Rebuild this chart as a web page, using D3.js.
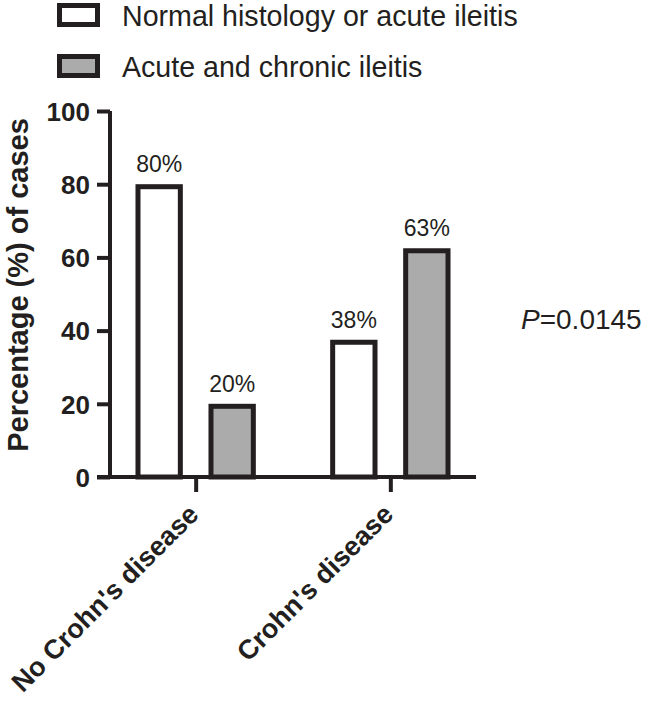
<!DOCTYPE html>
<html>
<head>
<meta charset="utf-8">
<script src="https://cdn.jsdelivr.net/npm/d3@7"></script>
<style>
  body { margin: 0; background: #fff; }
  svg { font-family: Arial, "Liberation Sans", Helvetica, sans-serif; }
</style>
</head>
<body>
<svg width="645" height="707"></svg>
<script>
const svg = d3.select('svg');

const groups = ["No Crohn's disease", "Crohn's disease"];
const series = ['Normal histology or acute ileitis', 'Acute and chronic ileitis'];
const normalValues = [80, 37.5];
const chronicValues = [20, 62.5];
const valueLabels = [['80%', '38%'], ['20%', '63%']];
const yTicks = [0, 20, 40, 60, 80, 100];
const pText = '=0.0145';

const ink = '#231f20';
const fills = ['#ffffff', '#ababab'];

const data = [];
groups.forEach((g, i) => {
  data.push({ group: g, series: series[0], value: normalValues[i], label: valueLabels[0][i] });
  data.push({ group: g, series: series[1], value: chronicValues[i], label: valueLabels[1][i] });
});

const yScale = d3.scaleLinear().domain([0, 100]).range([477, 111]);
const xScale = d3.scalePoint().domain(groups).range([110, 476]).padding(0.44);
const x1 = d3.scaleBand().domain(series).range([-73, 73])
  .paddingInner(0.42).paddingOuter(0.21);
const color = d3.scaleOrdinal().domain(series).range(fills);

// bars
const sw = 5;
svg.append('g').selectAll('rect').data(data)
  .enter().append('rect')
    .attr('x', d => xScale(d.group) + x1(d.series))
    .attr('y', d => yScale(d.value) + sw / 2)
    .attr('width', x1.bandwidth())
    .attr('height', d => yScale(0) - yScale(d.value) - sw / 2)
    .attr('fill', d => color(d.series))
    .attr('stroke', ink)
    .attr('stroke-width', sw);

// value labels
svg.append('g').selectAll('text').data(data)
  .enter().append('text')
    .attr('x', d => xScale(d.group) + x1(d.series) + x1.bandwidth() / 2)
    .attr('y', d => yScale(d.value) - 12)
    .attr('text-anchor', 'middle')
    .attr('font-size', 23)
    .attr('fill', ink)
    .text(d => d.label);

// y axis
const yAxisG = svg.append('g')
  .attr('transform', 'translate(110,0)')
  .call(d3.axisLeft(yScale).tickValues(yTicks).tickSize(13).tickPadding(7).tickSizeOuter(0));
yAxisG.select('.domain').attr('stroke', ink).attr('stroke-width', 4)
  .attr('d', `M0,${yScale(100)}V${yScale(0) + 2}`);
yAxisG.selectAll('.tick line').attr('stroke', ink).attr('stroke-width', 4);
yAxisG.selectAll('.tick text')
  .attr('fill', ink).attr('font-size', 26).attr('font-weight', 'bold')
  .attr('font-family', 'Arial, "Liberation Sans", sans-serif')
  .attr('dy', '0.36em');

// x axis
const xAxisG = svg.append('g')
  .attr('transform', `translate(0,${yScale(0)})`)
  .call(d3.axisBottom(xScale).tickSize(15).tickSizeOuter(0));
xAxisG.select('.domain').attr('stroke', ink).attr('stroke-width', 4)
  .attr('d', 'M97,0H476');
xAxisG.selectAll('.tick line').attr('stroke', ink).attr('stroke-width', 4);
xAxisG.selectAll('.tick text')
  .attr('fill', ink).attr('font-size', 27).attr('font-weight', 'bold')
  .attr('font-family', 'Arial, "Liberation Sans", sans-serif')
  .attr('text-anchor', 'end')
  .attr('dy', null)
  .attr('y', 0)
  .attr('transform', 'translate(4,39) rotate(-45)');

// y title
svg.append('text')
  .attr('transform', `translate(28,${(yScale(0) + yScale(100)) / 2 - 9}) rotate(-90)`)
  .attr('text-anchor', 'middle')
  .attr('font-size', 29)
  .attr('font-weight', 'bold')
  .attr('fill', ink)
  .text('Percentage (%) of cases');

// legend
const legend = svg.append('g').selectAll('g').data(series)
  .enter().append('g')
    .attr('transform', (d, i) => `translate(0,${i * 51})`);
legend.append('rect')
  .attr('x', 59.5).attr('y', 5.5).attr('width', 38).attr('height', 19)
  .attr('fill', d => color(d))
  .attr('stroke', ink).attr('stroke-width', sw);
legend.append('text')
  .attr('x', 122).attr('y', 26)
  .attr('font-size', 28.6)
  .attr('fill', ink)
  .text(d => d);

// p value
const pt = svg.append('text')
  .attr('x', 521).attr('y', 329)
  .attr('font-size', 28)
  .attr('fill', ink);
pt.append('tspan').attr('font-style', 'italic').text('P');
pt.append('tspan').text(pText);
</script>
</body>
</html>
